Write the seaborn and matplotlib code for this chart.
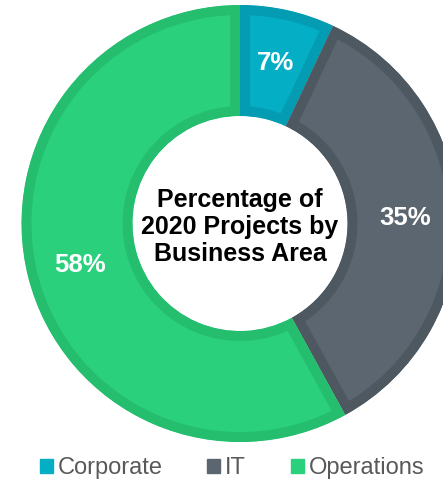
import matplotlib
matplotlib.use("Agg")
import matplotlib.pyplot as plt
from matplotlib.patches import Wedge
import seaborn as sns

areas = ["Corporate", "IT", "Operations"]
shares = [7, 35, 58]
fill_colors = ["#04AFC6", "#5B6670", "#2BD07D"]
edge_colors = ["#049CB3", "#4E5860", "#25BE6F"]
center_title = "Percentage of\n2020 Projects by\nBusiness Area"

sns.set_style("white")
plt.rcParams['font.family'] = ['Liberation Sans', 'DejaVu Sans']

W, H = 443, 482
fig = plt.figure(figsize=(W / 100, H / 100), dpi=100)
ax = fig.add_axes([0, 0, 1, 1])

cx, cy = 240, H - 223.5
radius = 218.5
ring = 111

wedges, texts, autotexts = ax.pie(
    shares, colors=fill_colors, startangle=90, counterclock=False,
    center=(cx, cy), radius=radius, autopct="%.0f%%", pctdistance=0.755,
    wedgeprops=dict(width=ring), frame=True,
    textprops=dict(color="white", fontsize=18.5, fontweight="bold"))

# darker border, kept inside each wedge by clipping to its own shape
for w, ec in zip(wedges, edge_colors):
    clip = Wedge(w.center, w.r, w.theta1, w.theta2, width=w.width,
                 transform=ax.transData)
    w.set_edgecolor(ec)
    w.set_linewidth(20 * 72 / 100)
    w.set_clip_on(True)
    w.set_clip_path(clip)

ax.set_xlim(0, W)
ax.set_ylim(0, H)
ax.set_aspect("equal")
ax.axis("off")

ax.text(cx, H - 227, center_title, ha="center", va="center",
        fontsize=18, fontweight="bold", color="black", linespacing=1.18)

leg = fig.legend(
    [plt.Rectangle((0, 0), 1, 1, color=c) for c in fill_colors], areas,
    loc="center", bbox_to_anchor=(232 / W, 1 - 468 / H), ncol=3,
    frameon=False, fontsize=17, handlelength=0.55, handleheight=0.55,
    handletextpad=0.2, columnspacing=1.9, borderpad=0)
for t in leg.get_texts():
    t.set_color("#595959")

plt.savefig("out.png", dpi=100)
